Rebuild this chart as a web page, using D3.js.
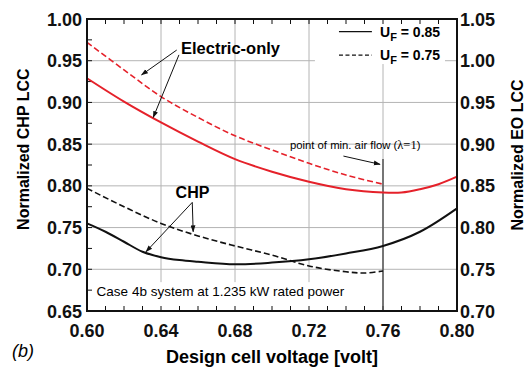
<!DOCTYPE html>
<html>
<head>
<meta charset="utf-8">
<script src="https://cdn.jsdelivr.net/npm/d3@7"></script>
<style>
  body { margin: 0; background: #fff; }
  svg { display: block; font-family: "Liberation Sans", Arial, sans-serif; }
</style>
</head>
<body>
<svg id="chart" width="528" height="368"></svg>
<script>
// Design cell voltage (x) and normalized life-cycle cost curves
const chpVoltsUF85 = [0.60, 0.61, 0.62, 0.63, 0.64, 0.65, 0.66, 0.68, 0.70, 0.72, 0.74, 0.76, 0.78, 0.80];
const chpLccUF85   = [0.755, 0.745, 0.733, 0.721, 0.7145, 0.711, 0.709, 0.706, 0.708, 0.712, 0.719, 0.728, 0.745, 0.773];

const chpVoltsUF75 = [0.60, 0.62, 0.64, 0.66, 0.68, 0.70, 0.72, 0.74, 0.75, 0.76];
const chpLccUF75   = [0.797, 0.775, 0.755, 0.740, 0.728, 0.717, 0.704, 0.697, 0.6955, 0.698];

// Electric-only curves, read on the right-hand axis
const eoVoltsUF85 = [0.60, 0.62, 0.64, 0.66, 0.68, 0.70, 0.72, 0.74, 0.76, 0.77, 0.78, 0.79, 0.80];
const eoLccUF85   = [0.979, 0.951, 0.926, 0.903, 0.882, 0.867, 0.855, 0.846, 0.842, 0.842, 0.846, 0.852, 0.861];

const eoVoltsUF75 = [0.60, 0.62, 0.64, 0.66, 0.68, 0.70, 0.72, 0.74, 0.76];
const eoLccUF75   = [1.022, 0.989, 0.957, 0.932, 0.910, 0.893, 0.877, 0.863, 0.852];

const xTicks      = [0.60, 0.64, 0.68, 0.72, 0.76, 0.80];
const yLeftTicks  = [0.65, 0.70, 0.75, 0.80, 0.85, 0.90, 0.95, 1.00];
const yRightTicks = [0.70, 0.75, 0.80, 0.85, 0.90, 0.95, 1.00, 1.05];
const legendLabels = ["0.85", "0.75"];

const minAirFlowVolt = 0.76;

const svg = d3.select("#chart");
const W = 528, H = 368;
const m = { left: 87, right: 71, top: 19, bottom: 57 };
const iw = W - m.left - m.right, ih = H - m.top - m.bottom;

const x = d3.scaleLinear().domain([0.60, 0.80]).range([m.left, m.left + iw]);
const yL = d3.scaleLinear().domain([0.65, 1.00]).range([m.top + ih, m.top]);
const yR = d3.scaleLinear().domain([0.70, 1.05]).range([m.top + ih, m.top]);

const RED = "#e5212a";
const GRID = "#b4b4b4";

svg.append("defs").append("marker")
  .attr("id", "arrow").attr("viewBox", "0 0 10 10")
  .attr("refX", 9).attr("refY", 5)
  .attr("markerWidth", 7).attr("markerHeight", 7)
  .attr("markerUnits", "userSpaceOnUse")
  .attr("orient", "auto")
  .append("path").attr("d", "M0,1.5 L10,5 L0,8.5 Z").attr("fill", "#111");

// Grid lines
const grid = svg.append("g");
grid.selectAll(".gx").data(xTicks.slice(1, -1)).join("line")
  .attr("x1", d => x(d)).attr("x2", d => x(d))
  .attr("y1", m.top).attr("y2", m.top + ih)
  .attr("stroke", GRID).attr("stroke-width", 1);
grid.selectAll(".gy").data(yLeftTicks.slice(1, -1)).join("line")
  .attr("y1", d => yL(d)).attr("y2", d => yL(d))
  .attr("x1", m.left).attr("x2", m.left + iw)
  .attr("stroke", GRID).attr("stroke-width", 1);

// White backing boxes for the legend and the case note
svg.append("rect")
  .attr("x", x(0.7232)).attr("y", yL(0.9988))
  .attr("width", x(0.7935) - x(0.7232)).attr("height", yL(0.946) - yL(0.9988))
  .attr("fill", "#fff");
svg.append("rect")
  .attr("x", x(0.6016)).attr("y", yL(0.6846))
  .attr("width", x(0.7375) - x(0.6016)).attr("height", yL(0.6508) - yL(0.6846))
  .attr("fill", "#fff");

// Minor ticks (inward)
const minorX = d3.range(0, 21).map(i => 0.60 + i * 0.01);
const minorY = d3.range(0, 15).map(i => 0.65 + i * 0.025);
const ticks = svg.append("g").attr("stroke", "#111").attr("stroke-width", 1);
ticks.selectAll(".tb").data(minorX).join("line")
  .attr("x1", d => x(d)).attr("x2", d => x(d))
  .attr("y1", m.top + ih).attr("y2", m.top + ih - 5);
ticks.selectAll(".tt").data(minorX).join("line")
  .attr("x1", d => x(d)).attr("x2", d => x(d))
  .attr("y1", m.top).attr("y2", m.top + 5);
ticks.selectAll(".tl").data(minorY).join("line")
  .attr("y1", d => yL(d)).attr("y2", d => yL(d))
  .attr("x1", m.left).attr("x2", m.left + 5);

// Vertical line marking the point of minimum air flow
svg.append("line")
  .attr("x1", x(minAirFlowVolt)).attr("x2", x(minAirFlowVolt))
  .attr("y1", yL(0.8321)).attr("y2", yL(0.65))
  .attr("stroke", "#555").attr("stroke-width", 1.5);

// Curves
const smooth = d3.curveCatmullRom.alpha(0.5);
const lineL = d3.line().x(d => x(d[0])).y(d => yL(d[1])).curve(smooth);
const lineR = d3.line().x(d => x(d[0])).y(d => yR(d[1])).curve(smooth);
const zip = (a, b) => a.map((v, i) => [v, b[i]]);

svg.append("path").datum(zip(eoVoltsUF75, eoLccUF75)).attr("d", lineR)
  .attr("fill", "none").attr("stroke", RED).attr("stroke-width", 1.6)
  .attr("stroke-dasharray", "6,3");
svg.append("path").datum(zip(eoVoltsUF85, eoLccUF85)).attr("d", lineR)
  .attr("fill", "none").attr("stroke", RED).attr("stroke-width", 2);
svg.append("path").datum(zip(chpVoltsUF75, chpLccUF75)).attr("d", lineL)
  .attr("fill", "none").attr("stroke", "#111").attr("stroke-width", 1.6)
  .attr("stroke-dasharray", "6,3");
svg.append("path").datum(zip(chpVoltsUF85, chpLccUF85)).attr("d", lineL)
  .attr("fill", "none").attr("stroke", "#111").attr("stroke-width", 2);

// Frame
svg.append("rect").attr("x", m.left).attr("y", m.top)
  .attr("width", iw).attr("height", ih)
  .attr("fill", "none").attr("stroke", "#111").attr("stroke-width", 2);

// Tick labels
const tl = svg.append("g").attr("font-size", 18).attr("font-weight", "bold").attr("fill", "#111");
tl.selectAll(".xl").data(xTicks).join("text")
  .attr("x", d => x(d)).attr("y", m.top + ih + 26)
  .attr("text-anchor", "middle").text(d => d.toFixed(2));
tl.selectAll(".yl").data(yLeftTicks).join("text")
  .attr("x", m.left - 5).attr("y", d => yL(d) + 6.5)
  .attr("text-anchor", "end").text(d => d.toFixed(2));
tl.selectAll(".yr").data(yRightTicks).join("text")
  .attr("x", m.left + iw + 3).attr("y", d => yR(d) + 6.5)
  .attr("text-anchor", "start").text(d => d.toFixed(2));

// Axis titles
svg.append("text").attr("x", x(0.70)).attr("y", 363)
  .attr("text-anchor", "middle").attr("font-size", 18).attr("font-weight", "bold")
  .text("Design cell voltage [volt]");
svg.append("text").attr("transform", `translate(29,${yL(0.844)}) rotate(-90)`)
  .attr("text-anchor", "middle").attr("font-size", 16).attr("font-weight", "bold")
  .text("Normalized CHP LCC");
svg.append("text").attr("transform", `translate(523,${yL(0.837)}) rotate(-90)`)
  .attr("text-anchor", "middle").attr("font-size", 16).attr("font-weight", "bold")
  .text("Normalized EO LCC");
svg.append("text").attr("x", 12).attr("y", 357)
  .attr("font-size", 18).attr("font-style", "italic").text("(b)");

// Legend
const legend = svg.append("g").attr("font-size", 14).attr("font-weight", "bold");
const legendY = [0.9848, 0.9568];
legendLabels.forEach((lab, i) => {
  legend.append("line")
    .attr("x1", x(0.7362)).attr("x2", x(0.7540))
    .attr("y1", yL(legendY[i])).attr("y2", yL(legendY[i]))
    .attr("stroke", "#111").attr("stroke-width", 1.2)
    .attr("stroke-dasharray", i === 0 ? null : "4,2.5");
  const t = legend.append("text").attr("x", x(0.7584)).attr("y", yL(legendY[i]) + 5);
  t.append("tspan").text("U");
  t.append("tspan").attr("font-size", 11).attr("dy", 4).text("F");
  t.append("tspan").attr("dy", -4).text(" = " + lab);
});

// Annotations
const arrow = (x1, y1, x2, y2) => svg.append("line")
  .attr("x1", x(x1)).attr("y1", yL(y1)).attr("x2", x(x2)).attr("y2", yL(y2))
  .attr("stroke", "#111").attr("stroke-width", 1).attr("marker-end", "url(#arrow)");

svg.append("text").attr("x", x(0.6508)).attr("y", yL(0.9585))
  .attr("font-size", 16.5).attr("font-weight", "bold").text("Electric-only");
arrow(0.6485, 0.9628, 0.6295, 0.933);
arrow(0.6497, 0.957, 0.6358, 0.882);

svg.append("text").attr("x", x(0.6479)).attr("y", yL(0.7854))
  .attr("font-size", 16).attr("font-weight", "bold").text("CHP");
arrow(0.6569, 0.7802, 0.6319, 0.7210);
arrow(0.6569, 0.7802, 0.6574, 0.7450);

const note = svg.append("text").attr("x", x(0.7097)).attr("y", yL(0.8447))
  .attr("font-size", 11.3);
note.append("tspan").text("point of min. air flow (");
note.append("tspan").attr("font-family", "'Liberation Serif', 'Times New Roman', serif")
  .attr("font-size", 12.5).text("λ=1");
note.append("tspan").text(")");
arrow(0.7386, 0.8357, 0.7584, 0.8258);

svg.append("text").attr("x", x(0.6052)).attr("y", yL(0.6675))
  .attr("font-size", 13.5).text("Case 4b system at 1.235 kW rated power");
</script>
</body>
</html>
